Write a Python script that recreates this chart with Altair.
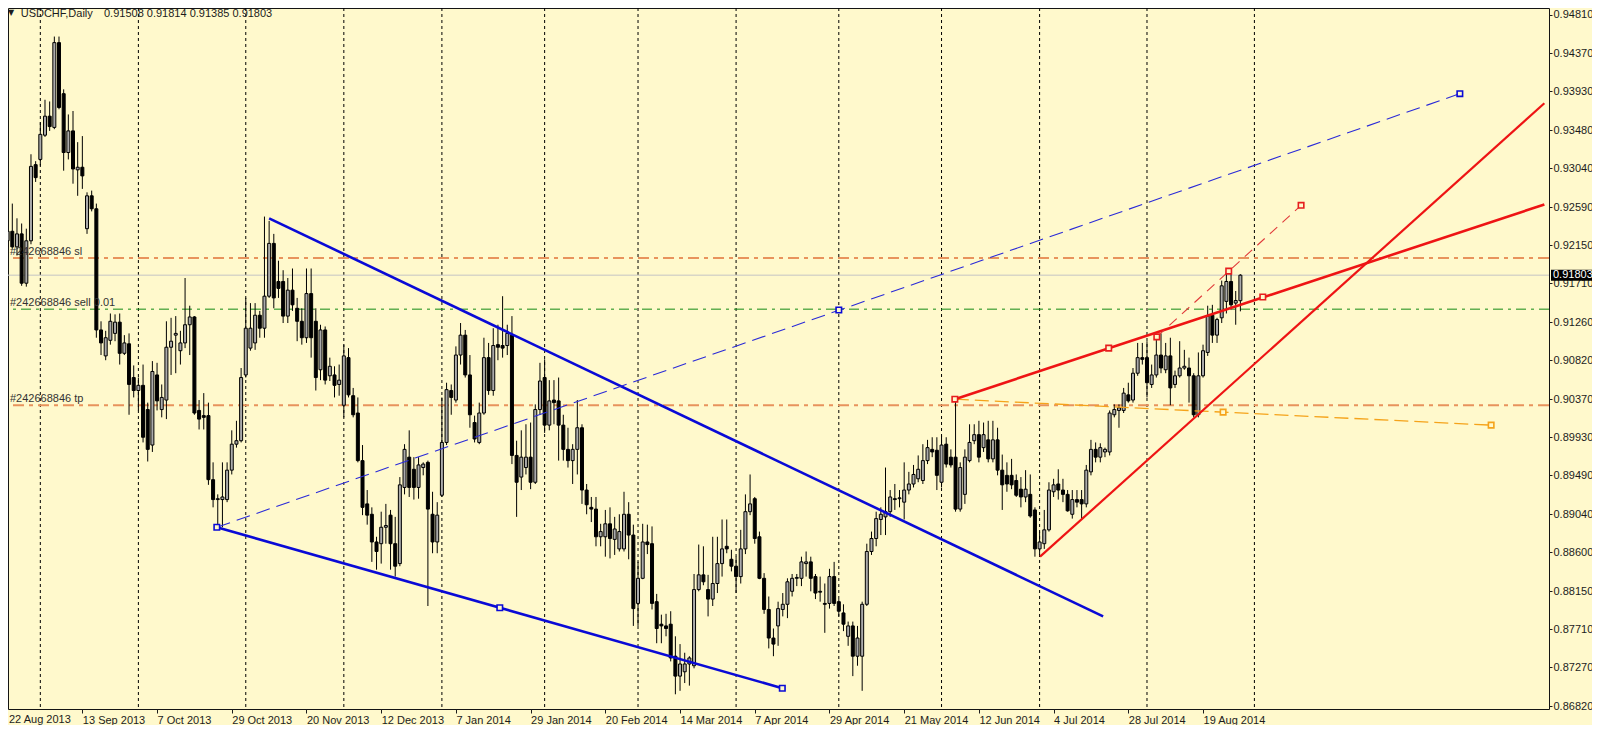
import altair as alt
import pandas as pd

# ---------------- data (bar index 0 = 22 Aug 2013 ... 264 = 29 Aug 2014) ----------------
bar_open = [
 .9220,.9231,.9213,.9228,.9171,.9220,.9308,.9314,.9342,.9364,.9351,.9449,.9390,.9322,.9347,.9302,.9305,.9234,.9272,.9257,
 .9117,.9087,.9105,.9113,.9126,.9090,.9101,.9062,.9047,.9053,.9025,.8984,.9065,.9025,.9036,.9097,.9111,.9093,.9102,.9123,
 .9132,.9024,.9018,.9018,.8944,.8921,.8921,.8921,.8955,.8985,.8989,.9065,.9096,.9102,.9134,.9119,.9156,.9217,.9173,.9173,
 .9133,.9163,.9142,.9127,.9108,.9159,.9127,.9071,.9117,.9064,.9065,.9054,.9030,.9085,.9041,.9021,.8966,.8916,.8904,.8872,
 .8870,.8889,.8903,.8870,.8847,.8935,.8970,.8956,.8935,.8958,.8964,.8904,.8872,.8926,.8987,.9047,.9036,.9088,.9111,.9065,
 .9010,.8987,.9021,.9085,.9047,.9100,.9099,.9099,.9111,.8972,.8947,.8958,.8970,.8941,.9025,.9062,.9007,.9036,.9035,.9007,
 .8979,.8966,.8979,.9004,.8932,.8912,.8910,.8878,.8878,.8893,.8875,.8864,.8864,.8904,.8880,.8801,.8830,.8872,.8870,.8803,
 .8777,.8775,.8777,.8740,.8717,.8722,.8731,.8729,.8817,.8834,.8817,.8806,.8824,.8847,.8867,.8852,.8844,.8832,.8864,.8907,
 .8922,.8878,.8830,.8794,.8761,.8775,.8794,.8800,.8815,.8830,.8830,.8847,.8849,.8832,.8815,.8801,.8801,.8832,.8803,.8790,
 .8763,.8775,.8740,.8740,.8800,.8861,.8876,.8898,.8901,.8907,.8922,.8922,.8918,.8932,.8939,.8945,.8943,.8966,.8979,.8978,
 .8941,.8985,.8970,.8970,.8910,.8927,.8966,.8989,.8996,.8981,.8990,.8968,.8990,.8955,.8949,.8949,.8943,.8933,.8924,.8927,
 .8909,.8864,.8870,.8886,.8930,.8939,.8932,.8927,.8904,.8921,.8921,.8916,.8953,.8979,.8970,.8976,.8976,.9019,.9024,.9024,
 .9042,.9036,.9067,.9085,.9085,.9054,.9065,.9088,.9071,.9087,.9054,.9064,.9073,.9073,.9064,.9019,.9064,.9091,.9134,.9111,
 .9131,.9150,.9173,.9148,.91508]
bar_high = [
 .9288,.9263,.9246,.9240,.9234,.9320,.9312,.9357,.9383,.9381,.9456,.9456,.9395,.9366,.9370,.9334,.9341,.9276,.9278,.9263,
 .9127,.9116,.9136,.9135,.9136,.9111,.9113,.9076,.9062,.9077,.9033,.9081,.9079,.9054,.9127,.9131,.9133,.9116,.9177,.9145,
 .9133,.9036,.9044,.9033,.8964,.8927,.8964,.8964,.9001,.9012,.9073,.9154,.9148,.9148,.9139,.9248,.9243,.9228,.9197,.9186,
 .9177,.9188,.9154,.9142,.9188,.9188,.9142,.9123,.9121,.9085,.9075,.9077,.9100,.9096,.9050,.9039,.8984,.8932,.8912,.8878,
 .8907,.8916,.8909,.8901,.8947,.8985,.9001,.8970,.8970,.8964,.8966,.8930,.8918,.9039,.9056,.9054,.9098,.9125,.9117,.9088,
 .9018,.9033,.9108,.9102,.9119,.9123,.9156,.9123,.9133,.8989,.9001,.9008,.9010,.9031,.9079,.9083,.9059,.9059,.9062,.9019,
 .9004,.8985,.9036,.9008,.8939,.8924,.8924,.8893,.8909,.8912,.8901,.8904,.8930,.8918,.8892,.8849,.8893,.8892,.8890,.8812,
 .8788,.8789,.8792,.8763,.8754,.8744,.8740,.8835,.8869,.8867,.8834,.8878,.8878,.8898,.8898,.8863,.8855,.8886,.8927,.8950,
 .8924,.8884,.8836,.8809,.8772,.8803,.8813,.8830,.8835,.8835,.8855,.8861,.8855,.8835,.8832,.8824,.8841,.8849,.8806,.8800,
 .8780,.8780,.8775,.8803,.8870,.8884,.8907,.8912,.8958,.8932,.8939,.8932,.8964,.8953,.8961,.8972,.8985,.8990,.8993,.8993,
 .8995,.8993,.8979,.9037,.8964,.8979,.9008,.9008,.9012,.9010,.9012,.9012,.9004,.8973,.8964,.8968,.8950,.8947,.8955,.8950,
 .8912,.8884,.8909,.8941,.8945,.8956,.8945,.8932,.8932,.8932,.8932,.8961,.8990,.8987,.8986,.8981,.9024,.9031,.9031,.9050,
 .9056,.9073,.9102,.9102,.9104,.9077,.9111,.9113,.9102,.9108,.9070,.9104,.9094,.9085,.9067,.9091,.9100,.9145,.9146,.9131,
 .9174,.9185,.9188,.9162,.91814]
bar_low = [
 .9213,.9211,.9203,.9168,.9167,.9216,.9288,.9307,.9340,.9347,.9349,.9372,.9301,.9314,.9286,.9272,.9280,.9228,.9254,.9108,
 .9088,.9082,.9100,.9104,.9077,.9088,.9019,.9039,.9024,.8987,.8965,.8976,.9024,.9016,.9014,.9065,.9067,.9077,.9096,.9088,
 .9019,.9002,.9002,.8938,.8912,.8888,.8889,.8918,.8950,.8981,.8987,.9062,.9093,.9094,.9108,.9108,.9154,.9142,.9154,.9125,
 .9125,.9139,.9104,.9100,.9102,.9085,.9047,.9059,.9054,.9058,.9039,.9041,.9016,.9039,.9016,.8964,.8903,.8892,.8849,.8840,
 .8847,.8870,.8840,.8832,.8844,.8927,.8924,.8921,.8922,.8949,.8798,.8859,.8859,.8924,.8984,.9019,.9033,.9077,.9062,.9004,
 .8987,.8985,.9019,.9042,.9041,.9082,.9085,.9088,.8962,.8901,.8932,.8950,.8933,.8939,.9019,.8998,.9001,.9008,.8966,.8966,
 .8958,.8939,.8950,.8916,.8904,.8895,.8867,.8867,.8855,.8853,.8857,.8861,.8861,.8852,.8775,.8775,.8829,.8858,.8794,.8755,
 .8755,.8763,.8734,.8696,.8700,.8709,.8706,.8726,.8815,.8822,.8786,.8798,.8813,.8832,.8859,.8838,.8813,.8824,.8858,.8903,
 .8870,.8829,.8789,.8749,.8740,.8752,.8786,.8784,.8809,.8821,.8821,.8832,.8815,.8806,.8803,.8767,.8795,.8798,.8786,.8769,
 .8752,.8717,.8729,.8700,.8798,.8857,.8867,.8880,.8880,.8901,.8909,.8912,.8898,.8927,.8935,.8941,.8939,.8962,.8970,.8932,
 .8935,.8958,.8958,.8907,.8907,.8916,.8964,.8985,.8964,.8976,.8964,.8964,.8949,.8909,.8930,.8933,.8924,.8912,.8918,.8900,
 .8855,.8855,.8864,.8884,.8924,.8921,.8918,.8907,.8899,.8912,.8898,.8912,.8949,.8964,.8964,.8970,.8972,.9016,.9004,.9021,
 .9033,.9033,.9064,.9077,.9039,.9050,.9062,.9067,.9067,.9030,.9050,.9062,.9071,.9033,.9016,.9016,.9062,.9087,.9102,.9102,
 .9125,.9136,.9140,.9123,.91385]
bar_close = [
 .9231,.9213,.9228,.9171,.9220,.9306,.9293,.9343,.9364,.9352,.9449,.9374,.9322,.9347,.9303,.9305,.9295,.9272,.9257,.9117,
 .9102,.9108,.9127,.9126,.9090,.9102,.9054,.9047,.9053,.8993,.8979,.9069,.9035,.9039,.9097,.9104,.9113,.9102,.9123,.9132,
 .9021,.9014,.9016,.8944,.8921,.8922,.8924,.8955,.8985,.8989,.9062,.9119,.9119,.9134,.9119,.9156,.9217,.9154,.9165,.9133,
 .9163,.9146,.9127,.9108,.9159,.9108,.9062,.9117,.9059,.9075,.9053,.9059,.9087,.9042,.9019,.8966,.8912,.8903,.8872,.8861,
 .8889,.8891,.8870,.8844,.8938,.8979,.8935,.8935,.8961,.8962,.8910,.8872,.8903,.8987,.9048,.9039,.9088,.9111,.9065,.9019,
 .8991,.9021,.9085,.9047,.9099,.9097,.9096,.9113,.8972,.8941,.8970,.8970,.8941,.9025,.9058,.9007,.9035,.9033,.9007,.8979,
 .8966,.8979,.9004,.8932,.8915,.8910,.8878,.8884,.8893,.8876,.8887,.8884,.8904,.8880,.8795,.8830,.8872,.8869,.8801,.8772,
 .8775,.8772,.8738,.8717,.8731,.8731,.8738,.8817,.8834,.8826,.8806,.8824,.8847,.8864,.8864,.8844,.8832,.8864,.8907,.8916,
 .8876,.8830,.8794,.8761,.8754,.8795,.8800,.8826,.8830,.8831,.8849,.8849,.8830,.8813,.8814,.8800,.8832,.8801,.8792,.8777,
 .8775,.8740,.8761,.8800,.8861,.8876,.8899,.8904,.8907,.8924,.8921,.8923,.8932,.8939,.8950,.8956,.8966,.8981,.8976,.8949,
 .8984,.8962,.8961,.8910,.8958,.8970,.8987,.8996,.8970,.8996,.8968,.8990,.8955,.8938,.8939,.8938,.8926,.8924,.8933,.8902,
 .8864,.8872,.8886,.8932,.8938,.8932,.8927,.8908,.8921,.8918,.8916,.8955,.8979,.8970,.8981,.8979,.9021,.9025,.9027,.9044,
 .9035,.9067,.9085,.9083,.9056,.9065,.9088,.9073,.9087,.9050,.9064,.9073,.9075,.9064,.9019,.9064,.9093,.9133,.9111,.9129,
 .9168,.9173,.9146,.9151,.91803]

# month-start bars (vertical grid) and time-axis labels
month_start_idx = [7, 28, 51, 72, 93, 115, 135, 156, 178, 200, 221, 244, 267]
time_tick_idx = [0, 16, 32, 48, 64, 80, 96, 112, 128, 144, 160, 176, 192, 208, 224, 240, 256]
time_tick_labels = ["22 Aug 2013", "13 Sep 2013", "7 Oct 2013", "29 Oct 2013", "20 Nov 2013",
                    "12 Dec 2013", "7 Jan 2014", "29 Jan 2014", "20 Feb 2014", "14 Mar 2014",
                    "7 Apr 2014", "29 Apr 2014", "21 May 2014", "12 Jun 2014", "4 Jul 2014",
                    "28 Jul 2014", "19 Aug 2014"]
price_ticks = [0.94810, 0.94370, 0.93930, 0.93480, 0.93040, 0.92590, 0.92150, 0.91710, 0.91260,
               0.90820, 0.90370, 0.89930, 0.89490, 0.89040, 0.88600, 0.88150, 0.87710, 0.87270, 0.86820]

# order levels
level_sl = 0.9200
level_sell = 0.9141
level_tp = 0.9030
last_price = 0.91803
label_sl = "#242668846 sl"
label_sell = "#242668846 sell 0.01"
label_tp = "#242668846 tp"
symbol_text = "USDCHF,Daily"
ohlc_text = "0.91508 0.91814 0.91385 0.91803"
last_price_text = "0.91803"

# drawn objects (bar index, price)
blue_top_i = [56.0, 234.6];   blue_top_p = [0.9246, 0.8786]
blue_low_i = [44.8, 165.9];   blue_low_p = [0.8889, 0.8703]
blue_dash_i = [44.8, 311.0];  blue_dash_p = [0.8889, 0.9390]
red_up_i = [202.85, 329.1];   red_up_p = [0.9037, 0.9262]
red_low_i = [221.1, 329.1];   red_low_p = [0.8855, 0.9379]
red_dash_i = [246.1, 277.0];  red_dash_p = [0.9109, 0.9261]
orange_i = [202.85, 317.7];   orange_p = [0.9037, 0.9007]

blue_mark_i = [44.8, 105.4, 165.9, 178.0, 311.0]
blue_mark_p = [0.8889, 0.8796, 0.8703, 0.9140, 0.9390]
red_mark_i = [202.85, 235.8, 268.8, 246.1, 261.5, 277.0]
red_mark_p = [0.9037, 0.9096, 0.9155, 0.9109, 0.9185, 0.9261]
orange_mark_i = [260.3, 317.7]
orange_mark_p = [0.9022, 0.9007]

# ---------------- styling ----------------
W, H = 1541, 701
PAD_RIGHT, PAD_BOTTOM = 43, 16
X_DOMAIN = [1.149, 329.02]
Y_DOMAIN = [0.8679, 0.94890]
BG = "#FFF9CC"
FG = "#1c1c1c"
FONT = "Liberation Sans"

xs = alt.Scale(domain=X_DOMAIN, nice=False, zero=False)
ys = alt.Scale(domain=Y_DOMAIN, nice=False, zero=False)

axis_idx = time_tick_idx[1:]
axis_labels = time_tick_labels[1:]
label_expr = ("[" + ",".join("'%s'" % s for s in axis_labels) + "][indexof(["
              + ",".join(str(v) for v in axis_idx) + "], datum.value)]")
x_axis = alt.Axis(values=axis_idx, labelExpr=label_expr, title=None, grid=False, domain=False,
                  tickSize=4, tickColor=FG, labelColor=FG, labelFont=FONT, labelFontSize=11,
                  labelAlign="left", labelBaseline="top", labelPadding=1, labelFlush=False,
                  labelOverlap=False)
y_axis = alt.Axis(orient="right", values=price_ticks, format=".5f", title=None, grid=False,
                  domain=False, tickSize=3, tickColor=FG, labelColor=FG, labelFont=FONT,
                  labelFontSize=11, labelPadding=1, labelFlush=False, labelOverlap=False)


def X(f):
    return alt.X(f"{f}:Q", scale=xs, axis=x_axis)


def Y(f):
    return alt.Y(f"{f}:Q", scale=ys, axis=y_axis)


bars = pd.DataFrame({"i": list(range(len(bar_open))), "o": bar_open, "h": bar_high,
                     "l": bar_low, "c": bar_close})

layers = []

# vertical month grid
layers.append(alt.Chart(pd.DataFrame({"i": month_start_idx})).mark_rule(
    color="black", strokeDash=[3, 3], strokeWidth=1).encode(x=X("i")))


def hline(p, color, width, dash):
    return alt.Chart(pd.DataFrame({"p": [p]})).mark_rule(
        color=color, strokeWidth=width, strokeDash=dash).encode(y=Y("p"))


layers.append(hline(last_price, "#C4C4C4", 1, [1, 0]))
layers.append(hline(level_sl, "#E8935C", 2, [11, 5, 4, 5]))
layers.append(hline(level_tp, "#E8935C", 2, [11, 5, 4, 5]))
layers.append(hline(level_sell, "#138A13", 1, [10, 5, 3, 5]))

# candles
base = alt.Chart(bars)
layers.append(base.mark_rule(color="black", strokeWidth=1, clip=True).encode(
    x=X("i"), y=Y("l"), y2="h:Q"))
layers.append(base.mark_bar(width=3, stroke="black", strokeWidth=1, clip=True).encode(
    x=X("i"), y=Y("o"), y2="c:Q",
    fill=alt.condition("datum.c >= datum.o", alt.value("#ababab"), alt.value("black"))))


def seg(ix, px, color, width, dash=None):
    kw = dict(color=color, strokeWidth=width, clip=True)
    if dash:
        kw["strokeDash"] = dash
    return alt.Chart(pd.DataFrame({"i": ix, "p": px})).mark_line(**kw).encode(x=X("i"), y=Y("p"))


layers.append(seg(blue_top_i, blue_top_p, "#0A0AD6", 2.6))
layers.append(seg(blue_low_i, blue_low_p, "#0A0AD6", 2.6))
layers.append(seg(blue_dash_i, blue_dash_p, "#2A2AD8", 1.1, [14, 7]))
layers.append(seg(orange_i, orange_p, "#F5A31A", 1.3, [14, 6]))
layers.append(seg(red_up_i, red_up_p, "#EE1414", 2.6))
layers.append(seg(red_low_i, red_low_p, "#EE1414", 2.2))
layers.append(seg(red_dash_i, red_dash_p, "#E03A3A", 1.1, [10, 7]))


def marks(ix, px, color):
    return alt.Chart(pd.DataFrame({"i": ix, "p": px})).mark_square(
        size=30, fill=BG, stroke=color, strokeWidth=1.6, opacity=1).encode(x=X("i"), y=Y("p"))


layers.append(marks(blue_mark_i, blue_mark_p, "#0A0AD6"))
layers.append(marks(red_mark_i, red_mark_p, "#E61E1E"))
layers.append(marks(orange_mark_i, orange_mark_p, "#F5A31A"))

# order labels
lab = pd.DataFrame({"p": [level_sl, level_sell, level_tp], "t": [label_sl, label_sell, label_tp]})
layers.append(alt.Chart(lab).mark_text(align="left", baseline="alphabetic", dy=-3, font=FONT,
                                       fontSize=11, color="#333333").encode(
    x=alt.value(2), y=Y("p"), text="t:N"))

# header text
layers.append(alt.Chart(pd.DataFrame({"t": ["\u25bc"]})).mark_text(
    align="center", baseline="middle", fontSize=8, color=FG, font="DejaVu Sans").encode(
    x=alt.value(3), y=alt.value(5), text="t:N"))
layers.append(alt.Chart(pd.DataFrame({"t": [symbol_text]})).mark_text(
    align="left", baseline="alphabetic", fontSize=11, color=FG, font=FONT).encode(
    x=alt.value(12.7), y=alt.value(8.8), text="t:N"))
layers.append(alt.Chart(pd.DataFrame({"t": [ohlc_text]})).mark_text(
    align="left", baseline="alphabetic", fontSize=11, color=FG, font=FONT).encode(
    x=alt.value(96), y=alt.value(8.8), text="t:N"))

# first time label sits left of the visible plot start: draw it at the left edge
layers.append(alt.Chart(pd.DataFrame({"t": [time_tick_labels[0]]})).mark_text(
    align="left", baseline="top", fontSize=11, color=FG, font=FONT).encode(
    x=alt.value(1), y=alt.value(H + 5), text="t:N"))

# last price tag on the price scale
tag = pd.DataFrame({"p": [last_price], "t": [last_price_text]})
layers.append(alt.Chart(tag).mark_rule(color="black", strokeWidth=11).encode(
    x=alt.value(W + 2), x2=alt.value(W + PAD_RIGHT), y=Y("p")))
layers.append(alt.Chart(tag).mark_text(align="left", baseline="middle", fontSize=11,
                                       color="white", font=FONT).encode(
    x=alt.value(W + 4), y=Y("p"), text="t:N"))

chart = alt.layer(*layers).properties(
    width=W, height=H, background=BG,
    padding={"left": 0, "top": 0, "right": PAD_RIGHT, "bottom": PAD_BOTTOM},
    autosize=alt.AutoSizeParams(type="none"),
).configure_view(stroke="#141414", strokeWidth=1)

chart.save("out.html", embed_options={"renderer": "svg", "actions": False})
